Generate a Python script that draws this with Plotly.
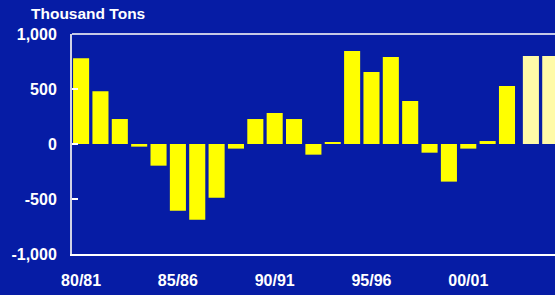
import plotly.graph_objects as go

years = ["80/81", "81/82", "82/83", "83/84", "84/85", "85/86", "86/87", "87/88",
         "88/89", "89/90", "90/91", "91/92", "92/93", "93/94", "94/95", "95/96",
         "96/97", "97/98", "98/99", "99/00", "00/01", "01/02", "02/03", "03/04", "04/05"]
values = [780, 480, 227, -24, -197, -606, -688, -488, -42, 227, 282, 227, -97, 18,
          845, 655, 791, 391, -79, -342, -42, 27, 527]
projected_years = ["03/04", "04/05"]
projected_values = [800, 800]
tick_labels = ["80/81", "85/86", "90/91", "95/96", "00/01"]
y_ticks = [-1000, -500, 0, 500, 1000]
y_tick_labels = ["-1,000", "-500", "0", "500", "1,000"]

BG = "#061ca5"
idx = {y: i for i, y in enumerate(years)}

fig = go.Figure()
fig.add_trace(go.Bar(x=[idx[y] for y in years[:len(values)]], y=values,
                     marker=dict(color="#ffff00", line=dict(width=0)), width=0.83))
fig.add_trace(go.Bar(x=[idx[y] for y in projected_years], y=projected_values,
                     marker=dict(color="#fffaa8", line=dict(width=0)), width=0.83,
                     offset=-0.18))

fig.update_layout(
    width=555, height=295,
    margin=dict(l=72, r=0, t=34, b=41),
    paper_bgcolor=BG, plot_bgcolor=BG,
    showlegend=False, barmode="overlay",
    font=dict(family="Liberation Sans, Arial, sans-serif", color="white", size=16),
    xaxis=dict(range=[-0.47, 24.48], tickvals=[idx[t] for t in tick_labels],
               ticktext=tick_labels, showgrid=False, zeroline=False,
               showline=True, linecolor="white", linewidth=2, ticks="",
               ticklabelstandoff=11, fixedrange=True,
               tickfont=dict(size=16, color="white", weight="bold")),
    yaxis=dict(range=[-1000, 1000], tickvals=y_ticks, ticktext=y_tick_labels,
               showgrid=False, zeroline=False, showline=True,
               linecolor="#d0d2e6", linewidth=2, ticks="inside", ticklen=6,
               tickcolor="white", tickwidth=1.5, ticklabelstandoff=10,
               fixedrange=True,
               tickfont=dict(size=16, color="white", weight="bold")),
    shapes=[dict(type="line", xref="paper", yref="paper", x0=0, x1=1, y0=1, y1=1,
                 line=dict(color="#c4c8e6", width=2))],
    annotations=[dict(text="<b>Thousand Tons</b>", xref="paper", yref="paper",
                      x=-0.089, y=1.091, xanchor="left", yanchor="middle",
                      showarrow=False, font=dict(size=15.5, color="white"))],
)

fig.write_html(
    "out.html",
    config={"displayModeBar": False, "staticPlot": True},
    post_script="document.body.style.margin='0';document.body.style.overflow='hidden';"
                "document.body.style.background='" + BG + "';",
)
